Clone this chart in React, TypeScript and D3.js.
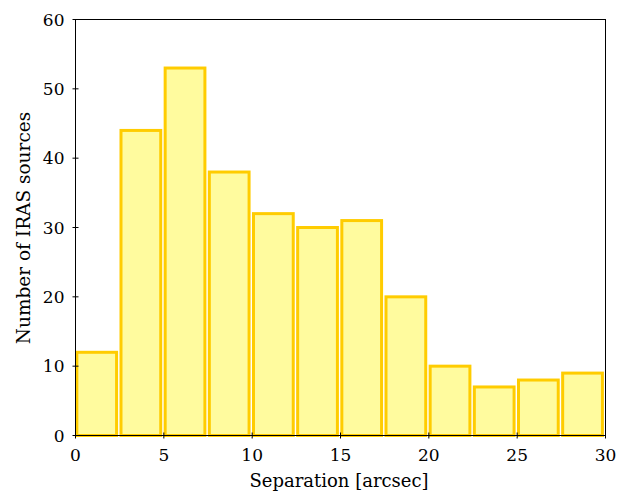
import React from "react";
import * as d3 from "d3";

const binEdges = [0, 2.5, 5, 7.5, 10, 12.5, 15, 17.5, 20, 22.5, 25, 27.5, 30];
const counts = [12, 44, 53, 38, 32, 30, 31, 20, 10, 7, 8, 9];
const xTicks = [0, 5, 10, 15, 20, 25, 30];
const yTicks = [0, 10, 20, 30, 40, 50, 60];

const W = 630, H = 491;
const M = { left: 75.5, right: 605.5, top: 19.5, bottom: 435.5 };
const FONT = "'DejaVu Serif', serif";

export default function App() {
  const x = d3.scaleLinear().domain([0, 30]).range([M.left, M.right]);
  const y = d3.scaleLinear().domain([0, 60]).range([M.bottom, M.top]);
  const rw = 0.9;
  return (
    <svg width={W} height={H} style={{ position: "absolute", left: 0, top: 0 }}>
      <rect width={W} height={H} fill="#fff" />
      {counts.map((c, i) => {
        const b0 = binEdges[i], b1 = binEdges[i + 1];
        const w = (b1 - b0) * rw;
        const s = b0 + (b1 - b0 - w) / 2 - 0.05;
        return (
          <rect key={i} x={x(s)} y={y(c)} width={x(s + w) - x(s)} height={y(0) - y(c)}
            fill="#FFFB9E" stroke="#FFCC00" strokeWidth={3} />
        );
      })}
      <rect x={M.left} y={M.top} width={M.right - M.left} height={M.bottom - M.top}
        fill="none" stroke="#000" strokeWidth={1} />
      {xTicks.map((t) => (
        <g key={t}>
          <line x1={x(t)} x2={x(t)} y1={M.bottom - 3} y2={M.bottom + 3} stroke="#000" />
          <text x={x(t)} y={M.bottom + 25} textAnchor="middle" fontFamily={FONT} fontSize={17}>{t}</text>
        </g>
      ))}
      {yTicks.map((t) => (
        <g key={t}>
          <line x1={M.left - 3} x2={M.left + 3} y1={y(t)} y2={y(t)} stroke="#000" />
          <text x={M.left - 11} y={y(t) + 6} textAnchor="end" fontFamily={FONT} fontSize={17}>{t}</text>
        </g>
      ))}
      <text x={339} y={487} textAnchor="middle" fontFamily={FONT} fontSize={18}>Separation [arcsec]</text>
      <text transform={`translate(30,228) rotate(-90)`} textAnchor="middle" fontFamily={FONT} fontSize={18.5}>Number of IRAS sources</text>
    </svg>
  );
}
